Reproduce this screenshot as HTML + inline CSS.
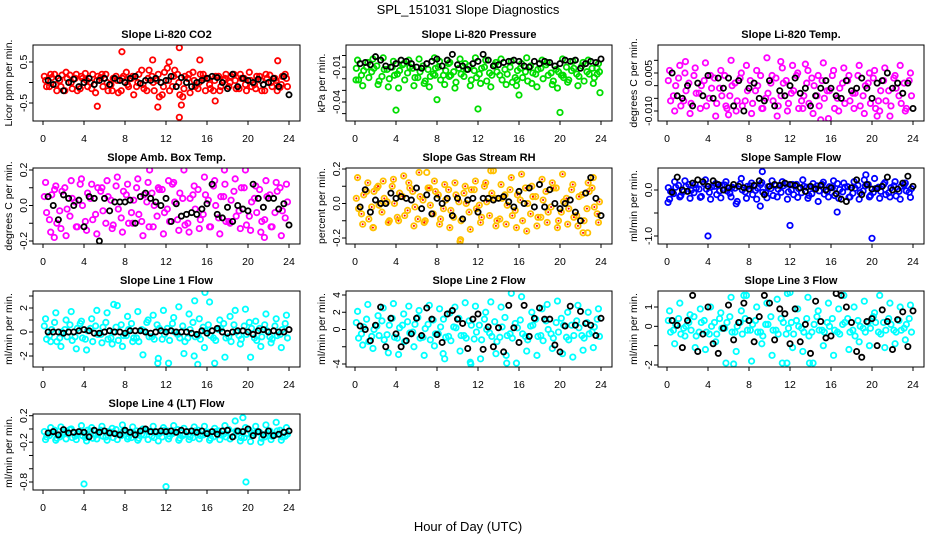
<!DOCTYPE html>
<html><head><meta charset="utf-8"><style>
body{margin:0;background:#fff;}
svg{display:block;font-family:"Liberation Sans",sans-serif;}
</style></head><body>
<svg id="chart" width="936" height="540" viewBox="0 0 936 540">
<text x="468" y="14" text-anchor="middle" font-size="13">SPL_151031  Slope Diagnostics</text>
<text x="468" y="531" text-anchor="middle" font-size="13">Hour of Day (UTC)</text>
</svg>
<script>
const hrs=[0.25,0.75,1.25,1.75,2.25,2.75,3.25,3.75,4.25,4.75,5.25,5.75,6.25,6.75,7.25,7.75,8.25,8.75,9.25,9.75,10.25,10.75,11.25,11.75,12.25,12.75,13.25,13.75,14.25,14.75,15.25,15.75,16.25,16.75,17.25,17.75,18.25,18.75,19.25,19.75,20.25,20.75,21.25,21.75,22.25,22.75,23.25,23.75];
const xTicks=[0,4,8,12,16,20,24];

// P1 CO2
const co2A=[0.15,-0.1,0.2,0.05,-0.2,0.18,0.1,-0.15,0.22,0.0,-0.25,0.12,0.2,-0.05,0.15,-0.2,0.25,0.1,-0.1,0.3,-0.2,0.15,0.05,-0.3,0.35,-0.1,0.2,-0.35,0.1,0.25,-0.15,0.2,0.1,-0.2,0.15,0.05,-0.1,0.2,-0.15,0.1,0.25,-0.05,0.15,-0.2,0.18,0.1,-0.12,0.2];
const co2B=[-0.1,0.12,-0.2,0.18,0.1,-0.15,-0.2,0.1,-0.1,0.2,0.15,-0.1,-0.2,0.1,-0.25,0.15,-0.1,-0.3,0.2,-0.15,0.3,-0.2,-0.35,0.25,-0.2,0.3,-0.3,0.15,-0.25,-0.1,0.2,-0.2,-0.15,0.15,-0.1,0.2,0.15,-0.15,0.1,-0.2,-0.1,0.15,-0.2,0.1,-0.1,-0.2,0.15,-0.1];
const co2C=[0.05,0.2,-0.05,-0.1,0.25,0.0,0.2,0.15,0.05,-0.15,0.05,0.2,0.0,-0.2,0.05,0.1,-0.05,0.15,0.0,-0.05,0.1,0.0,0.2,-0.1,0.05,0.15,0.0,-0.15,0.2,0.05,0.0,0.1,-0.05,0.05,-0.2,0.1,0.0,0.05,0.2,-0.05,0.05,-0.15,0.05,0.2,0.0,0.05,-0.05,0.1];
const co2Black=[0.05,-0.05,0.1,-0.2,0.0,0.08,-0.1,0.0,0.1,-0.05,0.05,0.1,-0.05,0.1,0.05,0.0,0.1,0.15,-0.02,0.05,0.05,0.1,0.0,0.05,0.15,-0.1,0.12,0.0,-0.1,0.0,0.05,0.1,0.15,0.12,0.0,-0.15,0.2,-0.1,0.1,0.05,0.0,0.08,-0.05,0.0,0.1,-0.1,0.15,-0.3];
const co2OutX=[7.7,13.3,13.3,5.3,11.2,10.7,12.3,15.3,22.9,16.8,13.5];
const co2OutY=[0.75,0.85,-0.85,-0.58,-0.6,0.55,0.5,0.55,0.53,-0.45,-0.55];

// P2 Pressure
const presA=[-.011,-.017,-.010,-.014,-.009,-.018,-.012,-.010,-.016,-.008,-.015,-.011,-.019,-.009,-.012,-.016,-.010,-.017,-.007,-.014,-.011,-.018,-.009,-.013,-.016,-.010,-.015,-.008,-.017,-.012,-.010,-.019,-.011,-.014,-.009,-.016,-.011,-.008,-.015,-.012,-.017,-.010,-.013,-.016,-.009,-.014,-.011,-.016];
const presB=[-.021,-.013,-.019,-.011,-.022,-.012,-.020,-.017,-.013,-.021,-.010,-.019,-.014,-.022,-.018,-.011,-.021,-.013,-.017,-.023,-.016,-.012,-.021,-.019,-.011,-.022,-.017,-.014,-.021,-.016,-.023,-.013,-.019,-.022,-.015,-.012,-.020,-.017,-.022,-.014,-.019,-.021,-.011,-.018,-.022,-.016,-.019,-.014];
const presC=[-.004,-.026,-.006,-.003,-.025,-.002,-.027,-.005,-.028,-.007,-.004,-.026,-.003,-.024,-.027,-.002,-.005,-.025,-.006,-.028,-.003,-.007,-.026,-.002,-.024,-.004,-.027,-.006,-.003,-.025,-.005,-.026,-.007,-.002,-.024,-.027,-.004,-.006,-.025,-.028,-.003,-.023,-.005,-.026,-.006,-.004,-.024,-.007];
const presBlack=[-.007,-.006,-.008,-.001,-.004,-.009,-.010,-.007,-.004,-.005,-.007,-.010,-.011,-.007,-.005,-.003,-.009,-.004,.001,-.008,-.009,-.012,-.007,-.005,.001,-.004,-.009,-.008,-.006,-.005,-.004,-.005,-.009,-.010,-.005,-.007,-.005,-.006,-.009,-.007,-.004,-.005,-.004,-.011,-.007,-.005,-.006,-.003];
const presOutX=[0.1,4,8,12,16,20,23.9,7.8,15.8,9.2,20.3,23.6];
const presOutY=[-0.021,-0.047,-0.038,-0.046,-0.034,-0.049,-0.032,-0.017,-0.021,-0.018,-0.017,-0.011];

// P3 Li-820 Temp
const ltA=[.002,-.004,.003,-.006,.001,.004,-.003,.002,-.005,.003,-.001,.004,-.004,.001,.003,-.006,.002,-.002,.004,-.005,.001,.003,-.004,.002,-.003,.004,-.006,.001,.003,-.004,.002,-.002,.004,-.005,.001,.002,-.003,.004,-.004,.001,.003,-.006,.002,-.002,.003,-.004,.001,.002];
const ltB=[-.006,.000,-.008,-.002,-.007,-.003,.000,-.008,-.001,-.007,-.004,-.009,.000,-.006,-.008,-.002,-.007,.000,-.009,-.003,-.006,-.008,.001,-.007,-.002,-.009,-.004,-.007,.000,-.008,-.005,-.002,-.009,-.001,-.007,-.006,-.003,-.008,.000,-.007,-.009,-.002,-.006,-.008,-.001,-.007,-.009,-.004];
const ltC=[.006,-.010,.008,.005,-.011,.007,-.009,.009,.004,-.012,.006,-.008,.010,-.010,.005,.008,-.011,.006,-.009,.011,.004,-.012,.007,-.010,.008,.005,-.009,.006,-.011,.004,.009,-.013,.006,-.010,.007,.004,-.009,.008,-.011,.005,.006,-.010,.007,-.012,.004,.008,-.010,.005];
const ltBlack=[.005,-.004,-.005,.000,-.008,.001,-.004,.004,-.005,.003,-.001,.003,-.008,.002,-.010,-.001,.001,-.005,-.006,.002,-.008,-.002,-.004,.000,.003,-.003,-.001,-.008,-.004,-.001,.002,-.001,-.004,-.005,.002,-.002,-.001,.003,-.001,-.005,.001,.002,.005,-.001,.001,-.003,.001,-.009];
const ltOutX=[1.8,11.1,6,15,20.5,13.5];
const ltOutY=[0.0095,0.0095,-0.0115,-0.0135,-0.012,0.0085];

// P4 Amb Box Temp
const abA=[.05,-.08,.09,-.03,.10,-.06,.02,.12,-.09,.04,-.05,.08,-.10,.03,.11,-.07,.06,-.04,.10,-.09,.02,.07,-.06,.09,-.02,.12,-.08,.04,-.10,.06,.09,-.05,.03,.11,-.07,.05,-.09,.08,-.03,.10,-.06,.04,.09,-.08,.06,-.04,.10,-.07];
const abB=[-.04,.06,-.10,.08,-.02,.04,-.12,.00,.07,-.08,.10,-.03,.05,-.11,-.02,.08,-.10,.03,-.05,.06,-.12,.00,.09,-.04,-.09,.02,.07,-.11,.04,-.02,-.08,.06,-.12,.00,.05,-.09,.03,-.06,.10,-.11,.02,-.04,-.09,.05,-.12,.08,-.03,.02];
const abC=[.13,-.15,.11,-.13,-.17,.14,-.12,.15,-.14,.12,-.16,.10,.14,-.13,.16,-.15,.12,-.10,.15,-.17,.13,-.12,.10,-.16,.14,.13,-.14,.20,-.15,.11,-.13,.16,-.12,.14,-.16,.12,-.10,.15,-.13,.20,-.14,.11,-.15,.14,-.12,.13,-.17,.12];
const abBlack=[.05,.00,-.08,.06,.04,.00,.03,-.12,.05,.04,-.20,.04,-.03,.02,.02,.02,.03,-.10,.05,.07,.04,.02,.00,.04,-.09,.01,-.06,-.05,-.04,-.05,-.02,.01,.12,-.05,-.07,-.01,-.09,.00,-.02,-.03,.12,.04,-.01,.04,.04,-.02,.01,-.11];
const abOutX=[1.1,10.4,17.7,21.6];
const abOutY=[-0.18,0.2,0.2,-0.18];

// P5 Gas Stream RH
const rhA=[.03,-.06,.07,-.02,.09,-.05,.01,.10,-.08,.04,-.04,.07,-.09,.02,.09,-.06,.05,-.03,.08,-.08,.01,.06,-.05,.08,-.01,.10,-.07,.03,-.09,.05,.08,-.04,.02,.09,-.06,.04,-.08,.07,-.02,.09,-.05,.03,.08,-.07,.05,-.03,.09,-.06];
const rhB=[-.03,.05,-.09,.07,-.01,.03,-.10,.00,.06,-.07,.09,-.02,.04,-.10,-.01,.07,-.09,.02,-.04,.05,-.10,.00,.08,-.03,-.08,.01,.06,-.10,.03,-.01,-.07,.05,-.10,.00,.04,-.08,.02,-.05,.09,-.10,.01,-.03,-.08,.04,-.10,.07,-.02,.01];
const rhC=[.15,-.12,.12,-.14,.10,.13,-.11,.14,-.10,.16,.12,-.13,.18,-.11,.09,.13,-.12,.11,-.14,.12,-.22,.10,-.15,.13,-.11,.12,.19,-.13,.11,-.12,.15,-.14,.17,-.16,.10,-.13,.14,-.11,.12,-.14,.17,-.12,.11,-.13,-.17,.12,.15,-.11];
const rhBlack=[-.02,.08,-.05,.02,.00,.00,.06,.03,.04,.03,.02,.09,-.03,.05,-.06,.03,.00,.03,-.07,.03,-.09,.02,.03,-.05,.03,.03,.02,.03,.04,.01,-.02,.07,.00,.09,-.02,.11,-.02,.08,.00,-.03,.00,.02,-.05,-.10,.06,.15,.03,-.07];
const rhOutX=[10.3,13.5,7.0,22.7,1.8];
const rhOutY=[-0.21,0.19,0.18,-0.17,-0.14];

// P6 Sample Flow
const sfA=[.05,-.08,.10,-.03,.12,-.06,.02,.14,-.05,.08,-.02,.11,-.07,.04,.13,-.04,.09,-.01,.12,-.06,.03,.10,-.05,.13,.00,.12,-.06,.06,-.08,.09,.12,-.03,.05,.14,-.04,.07,-.07,.10,-.02,.12,-.05,.06,.12,-.06,.09,-.03,.11,-.05];
const sfB=[-.03,.06,-.12,.08,-.01,.04,-.14,.02,.07,-.10,.10,-.02,.06,-.25,.00,.08,-.10,.04,-.05,.07,-.12,.02,.09,-.04,-.10,.03,.08,-.12,.05,-.02,-.09,.07,-.12,.01,.06,-.15,.04,-.06,.09,-.12,.03,-.03,-.10,.05,-.13,.08,-.02,.03];
const sfC=[-.20,.18,-.15,.20,-.18,.12,-.16,.22,-.20,.14,-.17,.18,-.15,-.30,.25,-.18,.15,-.20,.16,-.17,.20,-.15,.18,-.20,.12,-.16,.22,-.18,.14,-.25,.17,-.15,.20,-.18,.15,-.16,.18,-.20,.22,-.15,.25,-.18,.16,-.15,.18,-.20,.15,-.16];
const sfBlack=[-.05,.28,.00,-.03,.15,.22,.18,.08,.20,.12,.00,.05,.12,.08,.05,.02,.10,.20,-.10,.08,.12,.10,.15,.12,.10,.05,-.03,.08,.02,.10,.00,.05,-.08,-.20,-.25,.05,.22,-.10,.12,.02,.03,.08,.28,.00,.02,.15,.30,.08];
const sfOutX=[4,12,16.6,20,9.3,0.1,9.1,19.4];
const sfOutY=[-1.0,-0.77,-0.48,-1.05,0.4,-0.27,-0.35,0.33];

// P7 Line 1
const l1A=[.5,-.3,.8,-.5,.2,.6,-.4,.7,-.6,.3,.5,-.2,.8,-.5,.4,.6,-.3,.7,-.5,.2,.8,-.4,.6,-.6,.3,.7,-.2,.5,-.5,.8,-.3,.4,.6,-.5,.2,.7,-.4,.6,-.3,.5,.8,-.5,.3,.6,-.4,.5,-.2,.7];
const l1B=[-.6,.2,-.8,.0,-.4,-.7,.3,-.5,.1,-.8,-.2,.4,-.6,.0,-.7,-.3,.2,-.5,-.8,.1,-.4,-.6,.3,-.2,-.7,.0,-.5,-.8,.2,-.4,-.6,.1,-.3,-.7,.3,-.5,-.8,.0,-.6,-.2,.3,-.7,-.4,.1,-.6,-.3,.2,-.5];
const l1C=[1.1,-.8,1.6,-1.2,1.0,1.7,-1.4,.9,-1.5,1.1,1.8,-.9,1.6,-1.0,2.2,-1.2,1.3,-.8,1.7,-1.9,1.0,1.4,-2.2,1.8,-2.6,1.2,2.1,-1.8,1.5,-2.0,1.1,-1.3,2.5,-2.6,1.0,-2.1,1.3,1.8,-1.0,1.9,-2.1,.9,-1.2,1.5,-.9,1.1,-1.3,1.4];
const l1Black=[0,0,0,-.1,0,0,.1,.2,.1,-.1,-.1,0,.1,0,0,-.1,.1,.1,.1,0,-.1,0,.1,0,.1,0,0,0,-.1,-.2,.1,-.1,.1,.3,0,-.1,0,.1,.1,0,-.2,.1,.2,0,.1,0,0,.2];
const l1OutX=[15.8,11.2,15.1,6.9,14.8];
const l1OutY=[3.3,-2.6,-2.7,2.3,2.6];

// P8 Line 2
const l2A=[.8,-.5,1.2,-.8,.4,1.0,-.6,1.3,-1.0,.5,.9,-.3,1.4,-.9,.6,1.1,-.5,1.2,-.8,.3,1.3,-.7,1.0,-1.1,.5,1.2,-.4,.9,-.9,1.4,-.5,.7,1.1,-.8,.4,1.2,-.7,1.0,-.5,.8,1.3,-.9,.5,1.0,-.7,.8,-.3,1.2];
const l2B=[-1.0,.3,-1.4,.0,-.7,-1.2,.5,-.9,.2,-1.4,-.4,.6,-1.0,.1,-1.2,-.5,.3,-.9,-1.3,.2,-.7,-1.0,.5,-.3,-1.2,.0,-.8,-1.4,.3,-.7,-1.0,.2,-.5,-1.2,.5,-.8,-1.3,.0,-1.0,-.3,.5,-1.2,-.7,.2,-1.0,-.5,.3,-.8];
const l2C=[2.1,-1.8,2.9,-2.2,1.6,2.5,-2.7,3.0,-2.9,1.8,2.7,-2.0,2.2,-3.0,2.8,-1.9,2.4,-3.4,1.9,2.6,-2.5,3.1,-3.8,2.7,-3.4,2.0,3.2,-2.8,2.6,-3.0,4.2,-3.9,3.8,-2.5,2.0,-3.0,2.4,2.9,-2.2,3.3,-2.8,2.0,-3.2,2.8,-2.4,2.0,-2.1,2.4];
const l2Black=[.4,0,-1.3,.5,2.6,-2.0,1.3,-.5,-2.0,-1.3,-.5,1.3,-.7,2.5,1.2,-.6,-1.5,1.8,2.2,1.2,.7,-2.2,1.2,1.8,-2.3,.3,-2.0,.2,-2.6,2.8,.2,-1.5,2.8,-.8,1.3,2.5,1.2,1.2,-1.8,-2.6,.4,2.7,.5,2.1,.7,.5,-.7,1.3];
const l2OutX=[11.3,14.8,8.6];
const l2OutY=[-4.0,-3.9,-2.8];

// P9 Line 3
const l3A=[.3,-.2,.4,-.1,.2,.5,-.3,.3,-.4,.2,.4,-.1,.5,-.3,.2,.4,-.2,.3,-.3,.1,.5,-.2,.4,-.4,.2,.3,-.1,.4,-.3,.5,-.2,.2,.4,-.3,.1,.4,-.2,.3,-.1,.2,.5,-.3,.2,.4,-.2,.3,-.1,.4];
const l3B=[-.3,.1,-.4,.0,-.2,-.5,.2,-.3,.0,-.4,-.1,.2,-.3,.0,-.4,-.2,.1,-.3,-.5,.1,-.2,-.4,.2,-.1,-.4,.0,-.3,-.5,.1,-.2,-.3,.0,-.2,-.4,.2,-.3,-.5,.0,-.3,-.1,.2,-.4,-.2,.1,-.3,-.2,.1,-.3];
const l3C=[.8,-.9,1.2,-.5,.6,-1.1,.9,-1.2,1.0,-.8,.7,-1.9,1.5,-1.3,.8,1.6,-1.8,1.0,-.9,1.2,-1.5,1.4,-1.9,1.7,-1.1,.9,-1.3,1.5,-1.9,.8,-1.0,1.2,-1.5,.9,1.6,-1.2,1.0,-.8,1.3,-1.0,.7,1.6,-1.1,1.2,-.9,1.0,-.7,1.1];
const l3Black=[.3,.05,-1.1,.3,1.6,-1.3,-.4,1.0,-.9,-1.4,-.1,1.1,-.7,.2,1.2,.3,-.8,.5,1.6,1.2,-.7,.9,.65,-.9,.9,-.8,.1,-1.4,1.3,.25,-.6,-.5,1.7,1.6,1.0,.2,-1.3,-1.6,.25,.4,-1.0,.85,.25,-1.2,.35,.75,-1.05,.8];
const l3OutX=[6.5,11.7,13.9,12.0,7.5];
const l3OutY=[-1.95,-1.9,-1.9,1.75,1.6];

// P10 Line 4 (LT)
const l4A=[-.04,-.10,-.02,-.12,-.06,-.01,-.11,-.05,-.13,-.03,-.09,-.02,-.12,-.05,-.01,-.10,-.04,-.13,-.03,-.08,-.02,-.11,-.05,-.12,-.03,-.07,-.01,-.10,-.04,-.13,-.02,-.09,-.05,-.12,-.03,-.08,-.01,-.11,-.04,-.13,-.02,-.07,-.05,-.12,-.03,-.09,-.02,-.11];
const l4B=[-.12,-.06,-.14,-.08,-.03,-.13,-.07,-.10,-.02,-.14,-.06,-.11,-.04,-.13,-.08,-.03,-.12,-.06,-.14,-.09,-.04,-.13,-.07,-.02,-.11,-.05,-.14,-.08,-.12,-.03,-.10,-.06,-.14,-.04,-.09,-.12,-.06,-.03,-.13,-.07,-.10,-.04,-.14,-.06,-.11,-.03,-.12,-.08];
const l4C=[-.16,.02,-.17,.03,-.15,.00,-.16,.05,-.18,.02,-.15,.04,-.17,.01,-.16,.06,-.15,.03,-.17,.00,-.16,.04,-.18,.02,-.15,.05,-.17,.01,-.16,.03,-.15,.04,-.17,.01,-.16,.05,-.15,.12,-.18,.02,-.19,.04,-.20,.06,-.16,.10,-.17,.02];
const l4Black=[-.06,-.04,-.09,-.01,-.06,-.05,-.04,-.05,-.12,-.02,-.05,-.03,-.06,-.07,-.09,-.02,-.05,-.09,-.03,0,-.04,-.04,-.03,-.04,-.03,-.05,-.02,-.04,-.03,-.05,-.03,-.07,-.04,-.08,-.03,-.02,-.12,-.03,-.04,.00,-.10,-.04,-.09,-.03,-.10,-.08,-.05,-.03];
const l4OutX=[4,12,19.8,19.5];
const l4OutY=[-0.83,-0.87,-0.8,0.17];

const NS="http://www.w3.org/2000/svg";
const svg=document.getElementById('chart');
function mk(tag,attrs,parent){const e=document.createElementNS(NS,tag);for(const k in attrs)e.setAttribute(k,attrs[k]);(parent||svg).appendChild(e);return e;}

const panels=[
 {name:'co2',title:'Slope Li-820 CO2',ylab:'Licor ppm per min.',col:0,row:0,color:'#ff0000',A:co2A,B:co2B,C:co2C,K:co2Black,ox:co2OutX,oy:co2OutY,v1:0.5,p1:62,v2:-0.5,p2:103,ticks:[-0.5,0,0.5],labels:[[0.5,'0.5'],[-0.5,'-0.5']]},
 {name:'pressure',title:'Slope Li-820 Pressure',ylab:'kPa per min.',col:1,row:0,color:'#00dd00',A:presA,B:presB,C:presC,K:presBlack,ox:presOutX,oy:presOutY,v1:0,p1:55.5,v2:-0.04,p2:102,ticks:[0,-0.01,-0.02,-0.03,-0.04,-0.05],labels:[[-0.01,'-0.01'],[-0.04,'-0.04']]},
 {name:'li820-temp',title:'Slope Li-820 Temp.',ylab:'degrees C per min.',col:2,row:0,color:'#ff00ff',A:ltA,B:ltB,C:ltC,K:ltBlack,ox:ltOutX,oy:ltOutY,v1:0.005,p1:73,v2:-0.010,p2:111,ticks:[0.01,0.005,0,-0.005,-0.01],labels:[[0.005,'0.005'],[-0.01,'-0.010']]},
 {name:'amb-box-temp',title:'Slope Amb. Box Temp.',ylab:'degrees C per min.',col:0,row:1,color:'#ff00ff',A:abA,B:abB,C:abC,K:abBlack,ox:abOutX,oy:abOutY,v1:0.2,p1:170,v2:-0.2,p2:241,ticks:[0.2,0.1,0,-0.1,-0.2],labels:[[0.2,'0.2'],[0,'0.0'],[-0.2,'-0.2']]},
 {name:'gas-stream-rh',title:'Slope Gas Stream RH',ylab:'percent per min.',col:1,row:1,color:'#ffc000',inner:'#ff0000',A:rhA,B:rhB,C:rhC,K:rhBlack,ox:rhOutX,oy:rhOutY,v1:0.2,p1:169,v2:-0.2,p2:238,ticks:[0.2,0.1,0,-0.1,-0.2],labels:[[0.2,'0.2'],[0,'0.0'],[-0.2,'-0.2']]},
 {name:'sample-flow',title:'Slope Sample Flow',ylab:'ml/min per min.',col:2,row:1,color:'#0000ff',A:sfA,B:sfB,C:sfC,K:sfBlack,ox:sfOutX,oy:sfOutY,v1:0,p1:190,v2:-1,p2:236,ticks:[0,-0.5,-1],labels:[[0,'0.0'],[-1,'-1.0']]},
 {name:'line1-flow',title:'Slope Line 1 Flow',ylab:'ml/min per min.',col:0,row:2,color:'#00ffff',A:l1A,B:l1B,C:l1C,K:l1Black,ox:l1OutX,oy:l1OutY,v1:2,p1:308,v2:-2,p2:356,ticks:[3,2,1,0,-1,-2],labels:[[2,'2'],[0,'0'],[-2,'-2']]},
 {name:'line2-flow',title:'Slope Line 2 Flow',ylab:'ml/min per min.',col:1,row:2,color:'#00ffff',A:l2A,B:l2B,C:l2C,K:l2Black,ox:l2OutX,oy:l2OutY,v1:4,p1:295,v2:-4,p2:364,ticks:[4,2,0,-2,-4],labels:[[4,'4'],[2,'2'],[0,'0'],[-4,'-4']]},
 {name:'line3-flow',title:'Slope Line 3 Flow',ylab:'ml/min per min.',col:2,row:2,color:'#00ffff',A:l3A,B:l3B,C:l3C,K:l3Black,ox:l3OutX,oy:l3OutY,v1:1,p1:307,v2:-2,p2:365,ticks:[1,0,-1,-2],labels:[[1,'1'],[0,'0'],[-2,'-2']]},
 {name:'line4-lt-flow',title:'Slope Line 4 (LT) Flow',ylab:'ml/min per min.',col:0,row:3,color:'#00ffff',A:l4A,B:l4B,C:l4C,K:l4Black,ox:l4OutX,oy:l4OutY,v1:0.2,p1:415.7,v2:-0.8,p2:482,ticks:[0.2,0,-0.2,-0.4,-0.6,-0.8],labels:[[0.2,'0.2'],[-0.2,'-0.2'],[-0.8,'-0.8']]}
];
const colBox=[[33,300],[346,612],[658,924]];
const colX0=[43,355,667];
const rowBox=[[45,121],[168,244],[291,367],[414,490]];

panels.forEach(p=>{
  const [bl,br]=colBox[p.col],[bt,bb]=rowBox[p.row],x0=colX0[p.col];
  const sx=h=>x0+h/24*246;
  const sy=v=>p.p1+(v-p.v1)*(p.p2-p.p1)/(p.v2-p.v1);
  const g=mk('g',{});
  
  
  const t=mk('text',{x:(bl+br)/2,y:bt-7,'text-anchor':'middle','font-size':'11','font-weight':'bold'},g);
  
  
  t.textContent=p.title;
  const yl=mk('text',{x:0,y:0,'text-anchor':'middle','font-size':'10.5',transform:`translate(${bl-21},${(bt+bb)/2}) rotate(-90)`},g);
  
  
  yl.textContent=p.ylab;
  const clip=mk('clipPath',{id:'c'+p.name},g);
  mk('rect',{x:bl,y:bt,width:br-bl,height:bb-bt},clip);
  const pts=mk('g',{'clip-path':`url(#c${p.name})`},g);
  
  
  const rows=[[p.A,-0.12],[p.B,0.1],[p.C,0]];
  rows.forEach(([arr,off])=>{
    arr.forEach((v,i)=>{
      const c=mk('circle',{cx:sx(hrs[i]+off),cy:sy(v),r:2.7,fill:'none',stroke:p.color,'stroke-width':1.8},pts);
      
      
      if(p.inner){mk('circle',{cx:sx(hrs[i]+off),cy:sy(v),r:1,fill:p.inner},pts);}
    });
  });
  p.ox.forEach((h,i)=>{
    const c=mk('circle',{cx:sx(h),cy:sy(p.oy[i]),r:2.7,fill:'none',stroke:p.color,'stroke-width':1.8},pts);
    
    
  });
  p.K.forEach((v,i)=>{
    const c=mk('circle',{cx:sx(hrs[i]+0.25),cy:sy(v),r:2.6,fill:'none',stroke:'#000','stroke-width':1.8},pts);
    
    
  });
  const box=mk('rect',{x:bl,y:bt,width:br-bl,height:bb-bt,fill:'none',stroke:'#000','stroke-width':1},g);
  
  
  xTicks.forEach(h=>{
    mk('line',{x1:sx(h),x2:sx(h),y1:bb,y2:bb+4,stroke:'#000'},g);
    const tl=mk('text',{x:sx(h),y:bb+21,'text-anchor':'middle','font-size':'10.5'},g);
    
    
    tl.textContent=h;
  });
  p.ticks.forEach(v=>{
    const y=sy(v); if(y<bt-1||y>bb+1)return;
    mk('line',{x1:bl-4,x2:bl,y1:y,y2:y,stroke:'#000'},g);
  });
  p.labels.forEach(([v,s])=>{
    const tl=mk('text',{x:0,y:0,'text-anchor':'middle','font-size':'10.5',transform:`translate(${bl-6},${sy(v)}) rotate(-90)`},g);
    
    
    tl.textContent=s;
  });
});
</script>
</body></html>
